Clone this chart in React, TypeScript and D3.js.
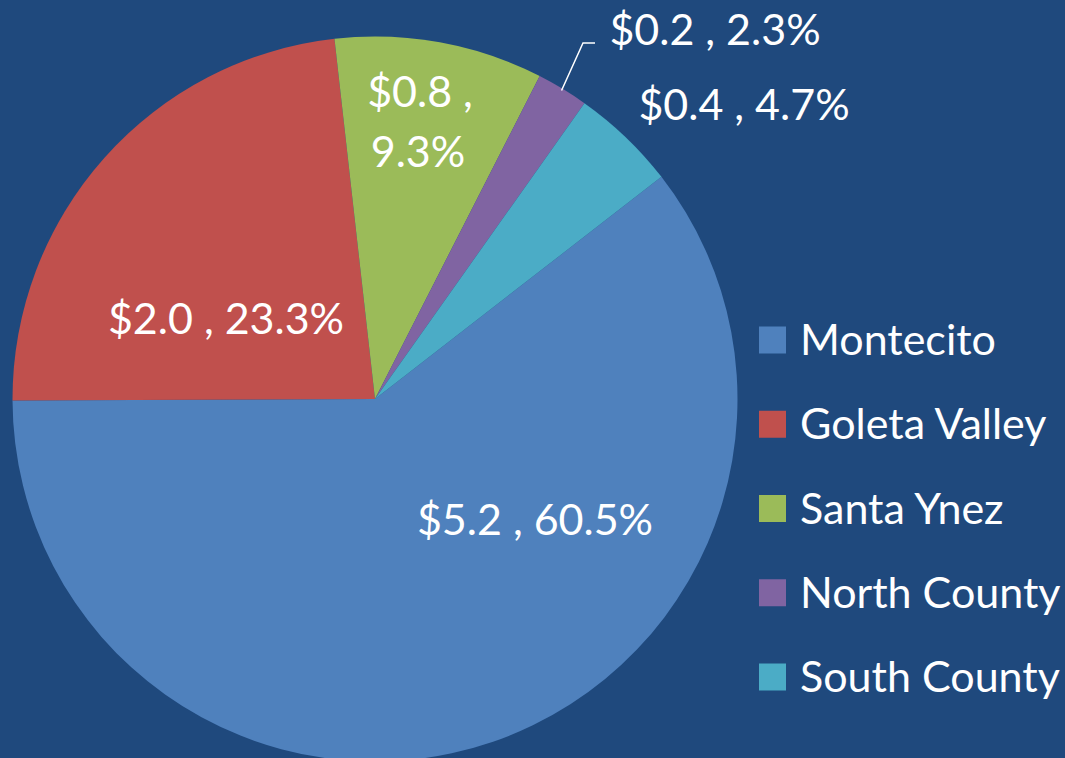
import React from "react";
import * as d3 from "d3";

const categories = ["Montecito", "Goleta Valley", "Santa Ynez", "North County", "South County"];
const values = [5.2, 2.0, 0.8, 0.2, 0.4];
const percents = [60.5, 23.3, 9.3, 2.3, 4.7];
const colors = ["#4F81BD", "#C0504D", "#9BBB59", "#8064A2", "#4BACC6"];

const W = 1065;
const H = 758;
const BG = "#1F497D";
const FONT = "Lato, 'Open Sans', sans-serif";
const FS = 43;
const LEGEND_FS = 43;

// label layout (x center, baseline y, lines)
const labelLayout = [
  { x: 535, y: 535 },
  { x: 226, y: 334 },
  { x: 420, y: 107, wrap: true },
  { x: 715, y: 45 },
  { x: 744, y: 120 },
];

export default function App() {
  const cx = 375;
  const cy = 399;
  const r = 362.5;
  const start = (52.2 * Math.PI) / 180;
  const pie = d3
    .pie<number>()
    .sort(null)
    .value((d) => d)
    .startAngle(start)
    .endAngle(start + 2 * Math.PI);
  const arcs = pie(percents);
  const arc = d3.arc<d3.PieArcDatum<number>>().innerRadius(0).outerRadius(r);

  // leader line for North County
  const nc = arcs[3];
  const ncMid = (nc.startAngle + nc.endAngle) / 2;
  const p0 = [cx + Math.sin(ncMid) * (r - 2), cy - Math.cos(ncMid) * (r - 2)];
  const p1 = [583, 43];
  const p2 = [595, 43];

  const legendY = d3.scalePoint<string>().domain(categories).range([340, 677]);

  return (
    <svg
      width={W}
      height={H}
      style={{ position: "absolute", left: 0, top: 0, background: BG }}
    >
      <rect x={0} y={0} width={W} height={H} fill={BG} />
      <g transform={`translate(${cx},${cy})`}>
        {arcs.map((a, i) => (
          <path key={i} d={arc(a) || ""} fill={colors[i]} />
        ))}
      </g>
      <polyline
        points={[p0, p1, p2].map((p) => p.join(",")).join(" ")}
        fill="none"
        stroke="#FFFFFF"
        strokeWidth={1.5}
      />
      {labelLayout.map((l, i) => {
        const v = `$${values[i].toFixed(1)} ,`;
        const p = `${percents[i].toFixed(1)}%`;
        if (l.wrap) {
          return (
            <text key={i} fill="#fff" fontFamily={FONT} fontSize={FS} textAnchor="middle">
              <tspan x={l.x} y={l.y}>{v}</tspan>
              <tspan x={l.x - 2} y={l.y + 60}>{p}</tspan>
            </text>
          );
        }
        return (
          <text key={i} x={l.x} y={l.y} fill="#fff" fontFamily={FONT} fontSize={FS} textAnchor="middle">
            {`${v} ${p}`}
          </text>
        );
      })}
      {categories.map((c, i) => {
        const y = legendY(c) as number;
        return (
          <g key={c}>
            <rect x={759} y={y - 13.5} width={27} height={27} fill={colors[i]} />
            <text x={800} y={y + 15} fill="#fff" fontFamily={FONT} fontSize={LEGEND_FS}>
              {c}
            </text>
          </g>
        );
      })}
    </svg>
  );
}
